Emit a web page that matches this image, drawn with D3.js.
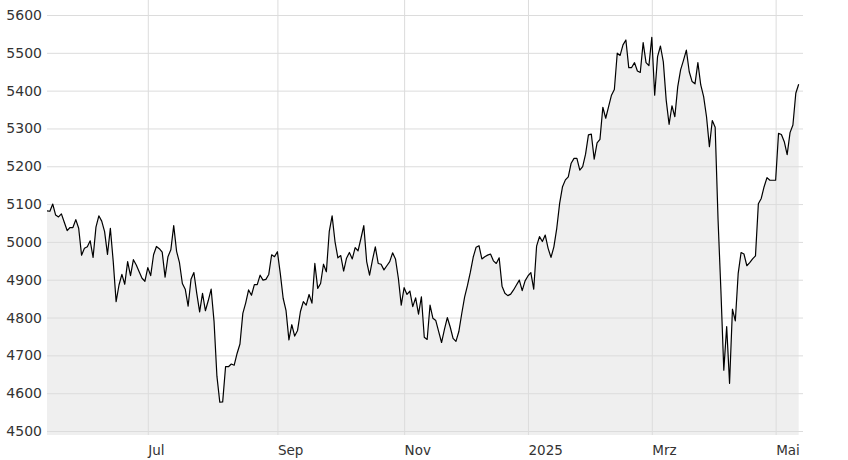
<!DOCTYPE html>
<html><head><meta charset="utf-8">
<script src="https://cdn.jsdelivr.net/npm/d3@7"></script>
<style>
html,body{margin:0;padding:0;background:#fff;}
svg{display:block;}
text{font-family:"DejaVu Sans",Verdana,sans-serif;fill:#333;}
</style></head><body>
<svg id="chart" width="848" height="460"></svg>
<script>
// Daily closes (trading weekdays) from Mon 13 May 2024 to Tue 13 May 2025
const startDate = "2024-05-13";
const values = [
5082,5081,5100,5071,5066,5074,5052,5030,5038,5038,
5059,5036,4965,4983,4987,5003,4959,5039,5069,5055,
5027,4967,5036,4948,4842,4886,4914,4888,4948,4911,
4953,4939,4921,4904,4896,4932,4911,4966,4988,4982,
4973,4907,4961,4979,5043,4975,4945,4890,4875,4830,
4901,4919,4864,4815,4864,4818,4845,4875,4790,4645,
4576,4577,4670,4670,4677,4674,4705,4730,4811,4839,
4873,4859,4887,4887,4912,4899,4901,4914,4966,4961,
4974,4917,4851,4818,4741,4781,4751,4766,4816,4842,
4833,4861,4838,4943,4877,4890,4941,4921,5027,5069,
5001,4958,4964,4923,4957,4972,4955,4985,4976,5009,
5043,4948,4912,4952,4987,4943,4941,4926,4937,4948,
4971,4955,4904,4833,4879,4861,4870,4829,4852,4809,
4855,4748,4742,4833,4798,4792,4763,4734,4769,4800,
4775,4745,4737,4763,4810,4854,4885,4920,4960,4986,
4990,4955,4961,4965,4968,4950,4943,4958,4883,4864,
4858,4862,4873,4886,4899,4871,4897,4910,4919,4875,
4989,5014,5001,5018,4983,4959,4987,5036,5102,5146,
5164,5172,5208,5221,5221,5190,5199,5232,5283,5285,
5219,5262,5271,5356,5327,5358,5388,5403,5499,5493,
5521,5534,5461,5461,5474,5452,5448,5527,5474,5466,
5541,5388,5490,5518,5476,5375,5311,5360,5331,5410,
5455,5480,5507,5450,5424,5418,5474,5415,5384,5331,
5252,5321,5303,5060,4870,4661,4776,4626,4822,4791,
4917,4972,4968,4937,4945,4955,4963,5101,5115,5146,
5170,5163,5163,5163,5287,5284,5265,5231,5289,5309,
5393,5417
];
const yTickValues = [4500,4600,4700,4800,4900,5000,5100,5200,5300,5400,5500,5600];
const monthStarts = ["2024-07-01","2024-09-01","2024-11-01","2025-01-01","2025-03-01","2025-05-01"];
const monthLabels = ["Jul","Sep","Nov","2025","Mrz","Mai"];

// trading weekdays for each value
const parse = d3.utcParse("%Y-%m-%d");
const dates = [];
{ let d = parse(startDate);
  while (dates.length < values.length) {
    const wd = d.getUTCDay();
    if (wd !== 0 && wd !== 6) dates.push(d);
    d = d3.utcDay.offset(d, 1);
  }
}
const data = values.map((v,i)=>({i, date:dates[i], v}));

const plotLeft = 47, plotRight = 803, plotTop = 0, plotBottom = 435;
const x = d3.scaleLinear().domain([0, values.length-1]).range([47, 47 + 2.88*(values.length-1)]);
const y = d3.scaleLinear().domain([4500, 5600]).range([431, 15]);

const svg = d3.select("#chart");

const xTicks = monthStarts.map((m,k)=>{
  const md = parse(m);
  const idx = dates.findIndex(d=>d>=md);
  return {idx, label: monthLabels[k]};
});

// area
svg.append("path")
  .datum(data)
  .attr("fill","#efefef")
  .attr("d", d3.area().x(d=>x(d.i)).y0(plotBottom).y1(d=>y(d.v)));

// horizontal grid + y labels
const yAxis = d3.axisLeft(y).tickValues(yTickValues).tickSize(-(plotRight-plotLeft)).tickPadding(5).tickFormat(d3.format("d"));
const gy = svg.append("g").attr("transform",`translate(${plotLeft},0)`).call(yAxis);
gy.select(".domain").remove();
gy.selectAll(".tick line").attr("stroke","#dcdcdc").attr("stroke-width",1);
gy.selectAll(".tick text").attr("fill","#333").style("font-size","14px")
  .style("font-family",'"DejaVu Sans",Verdana,sans-serif').attr("x",-5);

// vertical grid + x labels
const xAxis = d3.axisBottom(x).tickValues(xTicks.map(t=>t.idx))
  .tickFormat((d,k)=>xTicks[k].label).tickSize(-(plotBottom-plotTop)).tickPadding(10);
const gx = svg.append("g").attr("transform",`translate(0,${plotBottom})`).call(xAxis);
gx.select(".domain").remove();
gx.selectAll(".tick line").attr("stroke","#dcdcdc").attr("stroke-width",1);
gx.selectAll(".tick text").attr("fill","#333").style("font-size","13.5px")
  .style("font-family",'"DejaVu Sans",Verdana,sans-serif')
  .attr("text-anchor","start").attr("dy","0.71em").attr("y",10);

// line
svg.append("path")
  .datum(data)
  .attr("fill","none")
  .attr("stroke","#000")
  .attr("stroke-width",1.2)
  .attr("stroke-linejoin","round")
  .attr("d", d3.line().x(d=>x(d.i)).y(d=>y(d.v)));
</script>
</body></html>
